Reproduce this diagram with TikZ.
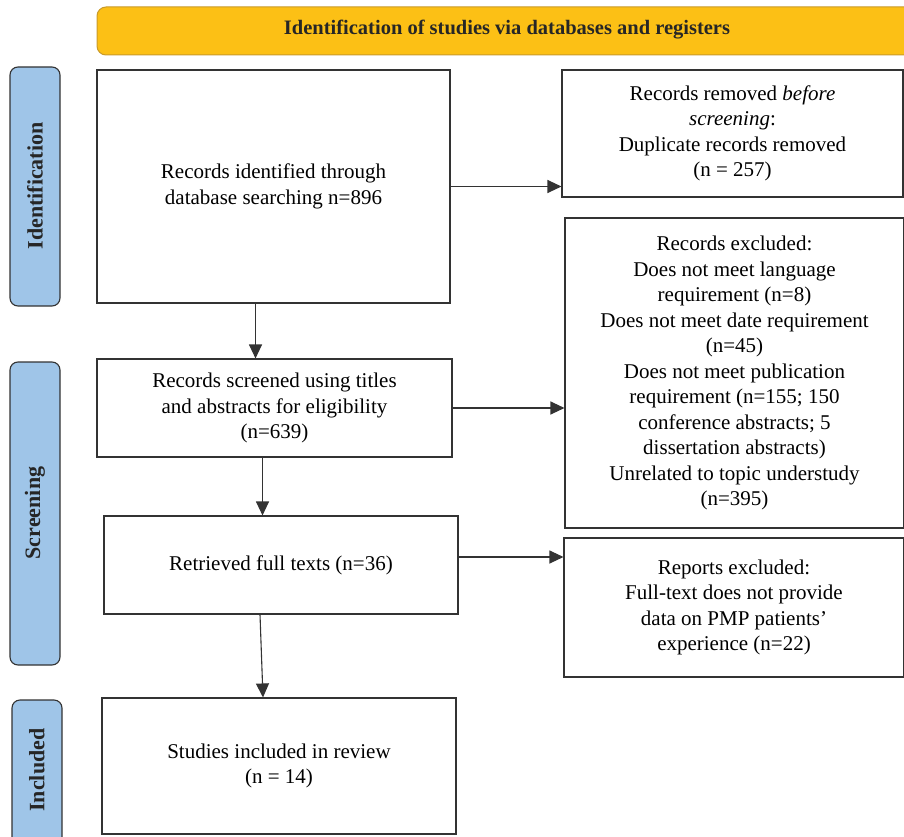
\documentclass[tikz,border=0pt]{standalone}
\usepackage{fontspec}
\setmainfont{Liberation Serif}
\usetikzlibrary{arrows.meta}
\definecolor{bannerfill}{HTML}{FCC015}
\definecolor{bannerdraw}{HTML}{C89A2A}
\definecolor{sidefill}{HTML}{9FC5E8}
\definecolor{linecol}{HTML}{333333}
\tikzset{
  box/.style={draw=linecol, line width=1.1pt, fill=white, align=center, font=\fontsize{21}{25.5}\selectfont, inner sep=4pt},
  side/.style={draw=linecol, line width=1.1pt, fill=sidefill, rounded corners=8pt},
  sidetext/.style={rotate=90, font=\fontsize{22}{26}\selectfont\bfseries, text=black!85},
  arr/.style={draw=linecol, line width=1.1pt, -{Triangle[length=14pt,width=13pt]}},
}
\begin{document}
\begin{tikzpicture}[x=1pt,y=-1pt]
\useasboundingbox (0,0) rectangle (904,837);
\clip (0,0) rectangle (904,837);
% banner
\draw[bannerdraw, fill=bannerfill, line width=1pt, rounded corners=9pt] (97,7) rectangle (930,55);
\node[font=\fontsize{20.5}{24}\selectfont\bfseries, text=black!85] (banner) at (507,30) {Identification of studies via databases and registers};
% side labels
\draw[side] (10,67) rectangle (60,306);
\node[sidetext] (sid) at (35,186) {Identification};
\draw[side] (10,362) rectangle (60,665);
\node[sidetext] (sscr) at (35,513) {Screening};
\draw[side] (12,700) rectangle (62,860);
\node[sidetext] (sinc) at (37,770) {Included};
% boxes
\node[box, minimum width=353pt, minimum height=233pt] (A) at (273.5,186.5) {Records identified through\\database searching n=896};
\node[box, minimum width=341pt, minimum height=127pt] (B) at (732.5,133.5) {Records removed \textit{before}\\\textit{screening}:\\Duplicate records removed\\(n = 257)};
\node[box, minimum width=355pt, minimum height=98pt] (C) at (274.5,408) {Records screened using titles\\and abstracts for eligibility\\(n=639)};
\node[box, minimum width=339pt, minimum height=310pt] (D) at (734.5,373) {Records excluded:\\Does not meet language\\requirement (n=8)\\Does not meet date requirement\\(n=45)\\Does not meet publication\\requirement (n=155; 150\\conference abstracts; 5\\dissertation abstracts)\\Unrelated to topic understudy\\(n=395)};
\node[box, minimum width=354pt, minimum height=98pt] (E) at (281,565) {Retrieved full texts (n=36)};
\node[box, minimum width=340pt, minimum height=139pt] (F) at (734,607.5) {Reports excluded:\\Full-text does not provide\\data on PMP patients'\\experience (n=22)};
\node[box, minimum width=354pt, minimum height=136pt] (G) at (279,766) {Studies included in review\\(n = 14)};
% arrows
\draw[arr] (A.east) -- (A.east -| B.west);
\draw[arr] ([xshift=-18pt]A.south) -- ([xshift=-18pt]A.south |- C.north);
\draw[arr] (C.east) -- (C.east -| D.west);
\draw[arr] ([xshift=-12pt]C.south) -- ([xshift=-12pt]C.south |- E.north);
\draw[arr] ([yshift=8pt]E.east) -- ([yshift=8pt]E.east -| F.west);
\draw[arr] ([xshift=-21pt]E.south) -- ([xshift=-16pt]G.north);
\end{tikzpicture}
\end{document}
